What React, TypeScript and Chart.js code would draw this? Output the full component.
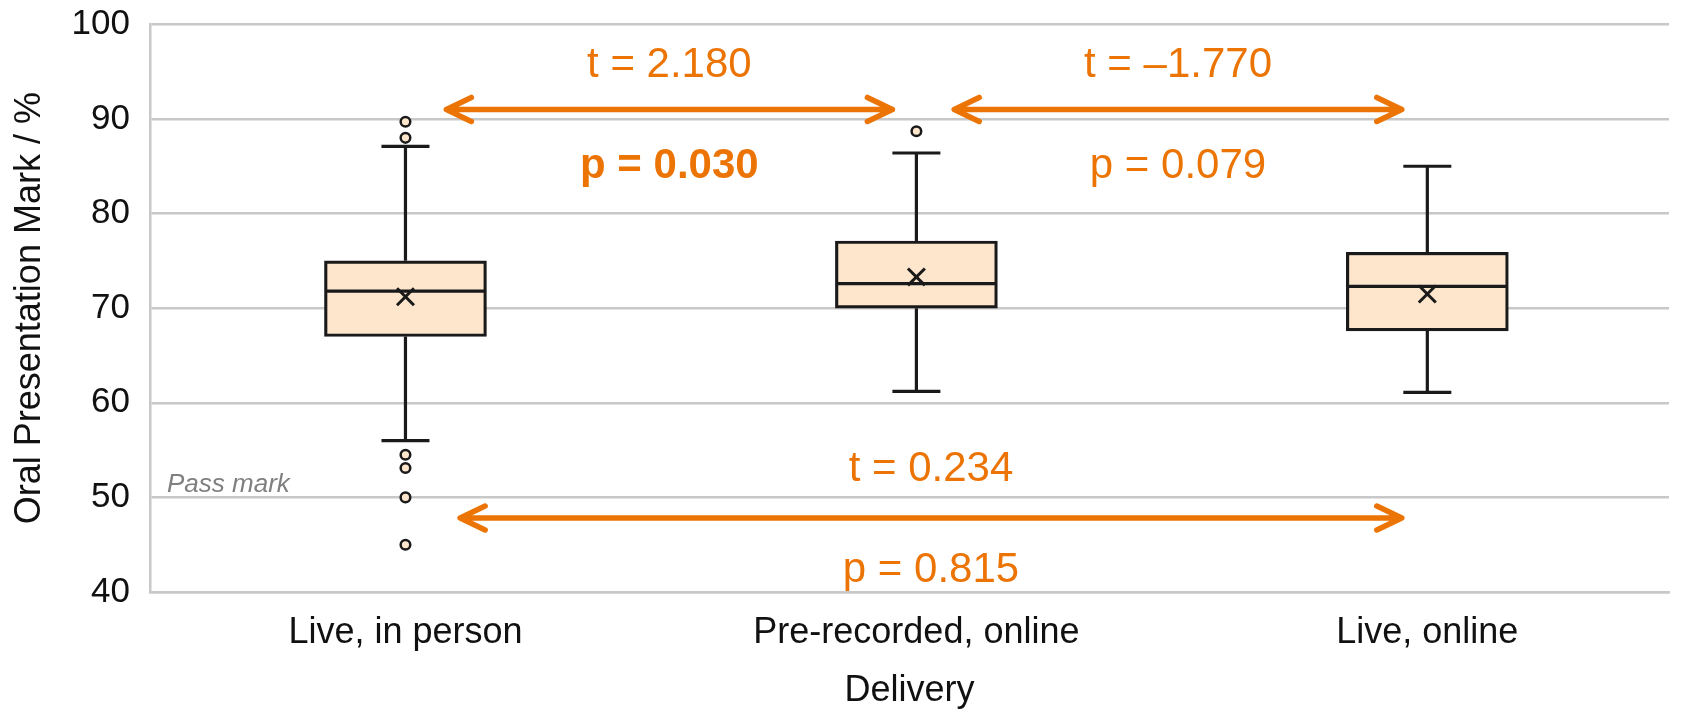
import { useEffect, useRef } from "react";
import { Chart, registerables } from "chart.js";

Chart.register(...registerables);

const categories = ["Live, in person", "Pre-recorded, online", "Live, online"];
const whiskerLow = [56.0, 61.2, 61.1];
const quartile1 = [67.0, 70.0, 67.6];
const medians = [71.8, 72.6, 72.3];
const quartile3 = [75.0, 77.1, 75.9];
const whiskerHigh = [87.1, 86.4, 85.0];
const means = [71.2, 73.3, 71.5];
const outliers = [[89.7, 88.0, 54.5, 53.1, 50.0, 45.0], [88.7], []];
const yTicks = [40, 50, 60, 70, 80, 90, 100];
const passMark = 50;

// t-tests between delivery modes
const comparisonPairs = [[0, 1], [1, 2], [0, 2]];
const tValues = ["2.180", "–1.770", "0.234"];
const pValues = [0.030, 0.079, 0.815];

// where the arrows and their labels sit (value units / category offsets)
const arrowLayout = [
  { y: 91.0, start: 0.08, end: -0.047, tY: 94.46, pY: 83.72 },
  { y: 91.0, start: 0.074, end: -0.05, tY: 94.46, pY: 83.72 },
  { y: 47.82, start: 0.107, end: -0.05, tY: 51.76, pY: 41.09 },
];

const FONT = "'Liberation Sans', Arial, sans-serif";
const ORANGE = "#ec7404";
const INK = "#1a1a1a";
const BOX_FILL = "#fde6cc";
const GRID = "#c8c8c8";
const BOX_WIDTH = 162;
const CAP_WIDTH = 48;

const boxWhiskerPlugin = {
  id: "boxWhiskers",
  afterDatasetsDraw(chart: Chart) {
    const { ctx } = chart;
    const x = chart.scales.x;
    const y = chart.scales.y;
    ctx.save();
    ctx.strokeStyle = INK;
    ctx.lineWidth = 3.2;
    categories.forEach((_, i) => {
      const cx = x.getPixelForValue(i);
      const yHi = y.getPixelForValue(whiskerHigh[i]);
      const yLo = y.getPixelForValue(whiskerLow[i]);
      const yMed = y.getPixelForValue(medians[i]);
      ctx.beginPath();
      ctx.moveTo(cx, y.getPixelForValue(quartile3[i]));
      ctx.lineTo(cx, yHi);
      ctx.moveTo(cx - CAP_WIDTH / 2, yHi);
      ctx.lineTo(cx + CAP_WIDTH / 2, yHi);
      ctx.moveTo(cx, y.getPixelForValue(quartile1[i]));
      ctx.lineTo(cx, yLo);
      ctx.moveTo(cx - CAP_WIDTH / 2, yLo);
      ctx.lineTo(cx + CAP_WIDTH / 2, yLo);
      ctx.moveTo(cx - BOX_WIDTH / 2 + 1.5, yMed);
      ctx.lineTo(cx + BOX_WIDTH / 2 - 1.5, yMed);
      ctx.stroke();
    });
    ctx.restore();
  },
};

const annotationPlugin = {
  id: "tTestArrows",
  afterDraw(chart: Chart) {
    const { ctx, chartArea } = chart;
    const x = chart.scales.x;
    const y = chart.scales.y;
    ctx.save();

    ctx.font = `italic 26px ${FONT}`;
    ctx.fillStyle = "#7f7f7f";
    ctx.textAlign = "left";
    ctx.textBaseline = "alphabetic";
    ctx.fillText("Pass mark", chartArea.left + 17, y.getPixelForValue(passMark) - 5);

    comparisonPairs.forEach(([a, b], i) => {
      const lay = arrowLayout[i];
      const x1 = x.getPixelForValue(a + lay.start);
      const x2 = x.getPixelForValue(b + lay.end);
      const ay = y.getPixelForValue(lay.y);

      ctx.strokeStyle = ORANGE;
      ctx.lineWidth = 5.5;
      ctx.lineCap = "round";
      ctx.lineJoin = "round";
      ctx.beginPath();
      ctx.moveTo(x1, ay);
      ctx.lineTo(x2, ay);
      ctx.moveTo(x1 + 25, ay - 12);
      ctx.lineTo(x1, ay);
      ctx.lineTo(x1 + 25, ay + 12);
      ctx.moveTo(x2 - 25, ay - 12);
      ctx.lineTo(x2, ay);
      ctx.lineTo(x2 - 25, ay + 12);
      ctx.stroke();

      const mid = (x1 + x2) / 2;
      ctx.fillStyle = ORANGE;
      ctx.textAlign = "center";
      ctx.font = `42px ${FONT}`;
      ctx.fillText(`t = ${tValues[i]}`, mid, y.getPixelForValue(lay.tY));
      ctx.font = `${pValues[i] < 0.05 ? "bold " : ""}42px ${FONT}`;
      ctx.fillText(`p = ${pValues[i].toFixed(3)}`, mid, y.getPixelForValue(lay.pY));
    });

    ctx.restore();
  },
};

export default function App() {
  const canvasRef = useRef<HTMLCanvasElement>(null);

  useEffect(() => {
    document.body.style.margin = "0";
    if (!canvasRef.current) return;

    const chart = new Chart(canvasRef.current, {
      type: "bar",
      data: {
        datasets: [
          {
            type: "scatter",
            label: "Mean",
            data: categories.map((_, i) => ({ x: i, y: means[i] })),
            pointStyle: "crossRot",
            pointRadius: 12,
            pointBorderWidth: 3,
            pointBorderColor: INK,
            pointBackgroundColor: INK,
          },
          {
            type: "scatter",
            label: "Outliers",
            data: outliers.flatMap((vals, i) => vals.map((v) => ({ x: i, y: v }))),
            pointStyle: "circle",
            pointRadius: 4.8,
            pointBorderWidth: 2.5,
            pointBorderColor: INK,
            pointBackgroundColor: BOX_FILL,
          },
          {
            type: "bar",
            label: "Interquartile range",
            data: categories.map((_, i) => ({ x: i, y: [quartile1[i], quartile3[i]] })),
            backgroundColor: BOX_FILL,
            borderColor: INK,
            borderWidth: 3.2,
            borderSkipped: false,
            barThickness: BOX_WIDTH,
          },
        ],
      } as any,
      options: {
        responsive: false,
        animation: false,
        layout: { padding: { top: 24.3, right: 0, left: 0, bottom: 0 } },
        plugins: {
          legend: { display: false },
          tooltip: { enabled: false },
        },
        scales: {
          x: {
            type: "linear",
            min: -0.5,
            max: 2.473,
            offset: false,
            afterBuildTicks: (scale: any) => {
              scale.ticks = categories.map((_, i) => ({ value: i }));
            },
            afterFit: (scale: any) => {
              scale.height = 119;
            },
            grid: { display: false, offset: false },
            border: { display: true, color: GRID, width: 2.5 },
            ticks: {
              padding: 11,
              color: "#111",
              font: { family: FONT, size: 36 },
              callback: (v: any) => categories[v] ?? "",
            },
            title: {
              display: true,
              text: "Delivery",
              color: "#111",
              font: { family: FONT, size: 36 },
              padding: { top: 0, bottom: -2 },
            },
          },
          y: {
            min: yTicks[0],
            max: yTicks[yTicks.length - 1],
            afterFit: (scale: any) => {
              scale.width = 150;
              // the labels may overhang the plot; keep the plot edges where the reference has them
              scale.paddingTop = 0;
              scale.paddingBottom = 0;
            },
            grid: { color: GRID, lineWidth: 2.5, drawTicks: false },
            border: { display: true, color: GRID, width: 2.5 },
            ticks: {
              stepSize: yTicks[1] - yTicks[0],
              padding: 20,
              color: "#111",
              font: { family: FONT, size: 35 },
            },
            title: {
              display: true,
              text: "Oral Presentation Mark / %",
              color: "#111",
              font: { family: FONT, size: 36 },
              padding: { top: 8, bottom: 0 },
            },
          },
        },
      } as any,
      plugins: [boxWhiskerPlugin, annotationPlugin],
    });

    return () => chart.destroy();
  }, []);

  return (
    <div style={{ width: 1684, height: 711, overflow: "hidden", background: "#fff" }}>
      <canvas ref={canvasRef} width={1684} height={711} style={{ display: "block" }} />
    </div>
  );
}
